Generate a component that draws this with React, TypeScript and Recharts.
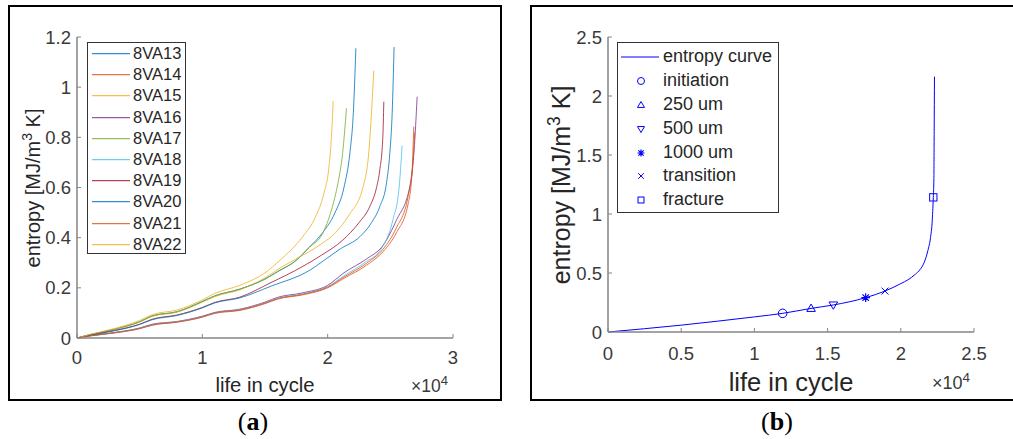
import React from "react";
import { LineChart, Line, XAxis, YAxis, ComposedChart, Scatter, Legend } from "recharts";

const FONT = '"Liberation Sans", Arial, Helvetica, sans-serif';
const AXIS = "#858585";
const TXT = "#3a3a3a";

// life in cycle is in units of 1e4, entropy in MJ/m^3 K

// panel (a)
const specimenNames = ["8VA13", "8VA14", "8VA15", "8VA16", "8VA17", "8VA18", "8VA19", "8VA20", "8VA21", "8VA22"];
const specimenColors = ["#0072BD", "#D95319", "#EDB120", "#7E2F8E", "#77AC30", "#4DBEEE", "#A2142F", "#0072BD", "#D95319", "#EDB120"];

const va13 = [[0, 0], [0.1, 0.013], [0.3, 0.035], [0.5, 0.065], [0.6, 0.088], [0.8, 0.105], [1.0, 0.146], [1.1, 0.168], [1.3, 0.195], [1.5, 0.235], [1.6, 0.264], [1.75, 0.31], [1.85, 0.36], [1.96, 0.42], [2.057, 0.498], [2.13, 0.6], [2.177, 0.737], [2.205, 0.9], [2.225, 1.155]];
const va14 = [[0, 0], [0.1, 0.008], [0.3, 0.02], [0.5, 0.037], [0.6, 0.051], [0.8, 0.063], [1.0, 0.083], [1.1, 0.098], [1.3, 0.11], [1.5, 0.137], [1.6, 0.155], [1.8, 0.172], [2.0, 0.2], [2.13, 0.238], [2.31, 0.29], [2.443, 0.345], [2.549, 0.42], [2.64, 0.53], [2.672, 0.65], [2.687, 0.843]];
const va15 = [[0, 0], [0.1, 0.013], [0.3, 0.034], [0.5, 0.063], [0.6, 0.086], [0.8, 0.103], [1.0, 0.143], [1.1, 0.165], [1.3, 0.192], [1.5, 0.24], [1.64, 0.285], [1.83, 0.338], [1.95, 0.375], [2.057, 0.417], [2.17, 0.49], [2.283, 0.603], [2.33, 0.75], [2.368, 1.066]];
const va16 = [[0, 0], [0.1, 0.009], [0.3, 0.022], [0.5, 0.04], [0.6, 0.055], [0.8, 0.066], [1.0, 0.087], [1.1, 0.102], [1.3, 0.115], [1.5, 0.143], [1.6, 0.162], [1.8, 0.18], [2.0, 0.21], [2.13, 0.26], [2.31, 0.315], [2.443, 0.37], [2.549, 0.47], [2.655, 0.603], [2.69, 0.75], [2.714, 0.962]];
const va17 = [[0, 0], [0.1, 0.013], [0.3, 0.035], [0.5, 0.065], [0.6, 0.088], [0.8, 0.105], [1.0, 0.145], [1.1, 0.168], [1.3, 0.195], [1.5, 0.235], [1.6, 0.265], [1.75, 0.31], [1.85, 0.36], [1.96, 0.417], [2.03, 0.51], [2.076, 0.603], [2.12, 0.74], [2.15, 0.916]];
const va18 = [[0, 0], [0.1, 0.009], [0.3, 0.021], [0.5, 0.039], [0.6, 0.053], [0.8, 0.065], [1.0, 0.085], [1.1, 0.1], [1.3, 0.113], [1.5, 0.14], [1.6, 0.158], [1.8, 0.176], [2.0, 0.205], [2.13, 0.248], [2.31, 0.305], [2.42, 0.35], [2.52, 0.47], [2.57, 0.6], [2.594, 0.767]];
const va19 = [[0, 0], [0.1, 0.011], [0.3, 0.03], [0.5, 0.055], [0.6, 0.075], [0.8, 0.092], [1.0, 0.122], [1.1, 0.142], [1.3, 0.163], [1.54, 0.219], [1.8, 0.285], [1.95, 0.33], [2.12, 0.39], [2.25, 0.46], [2.336, 0.524], [2.39, 0.6], [2.416, 0.67], [2.44, 0.8], [2.448, 0.942]];
const va20 = [[0, 0], [0.1, 0.011], [0.3, 0.029], [0.5, 0.054], [0.6, 0.073], [0.8, 0.09], [1.0, 0.12], [1.1, 0.14], [1.3, 0.16], [1.54, 0.205], [1.86, 0.271], [2.0, 0.32], [2.1, 0.355], [2.257, 0.404], [2.35, 0.46], [2.416, 0.524], [2.47, 0.62], [2.496, 0.737], [2.515, 0.9], [2.53, 1.16]];
const va21 = [[0, 0], [0.1, 0.008], [0.3, 0.021], [0.5, 0.038], [0.6, 0.052], [0.8, 0.064], [1.0, 0.084], [1.1, 0.1], [1.3, 0.112], [1.5, 0.139], [1.6, 0.157], [1.8, 0.174], [2.0, 0.203], [2.13, 0.243], [2.31, 0.298], [2.443, 0.355], [2.549, 0.44], [2.64, 0.56], [2.68, 0.7], [2.695, 0.82]];
const va22 = [[0, 0], [0.1, 0.014], [0.3, 0.038], [0.5, 0.07], [0.6, 0.093], [0.8, 0.112], [1.0, 0.152], [1.1, 0.178], [1.3, 0.21], [1.5, 0.26], [1.62, 0.31], [1.8, 0.404], [1.9, 0.48], [1.97, 0.577], [2.01, 0.68], [2.03, 0.8], [2.044, 0.945]];
const specimenCurves = [va13, va14, va15, va16, va17, va18, va19, va20, va21, va22];

const xTicksA = [0, 1, 2, 3];
const yTicksA = [0, 0.2, 0.4, 0.6, 0.8, 1, 1.2];

// panel (b)
const entropyCurve = [[0, 0], [0.25, 0.028], [0.5, 0.058], [0.75, 0.092], [1.0, 0.128], [1.193, 0.158], [1.387, 0.2], [1.539, 0.229], [1.76, 0.291], [1.892, 0.347], [2.0, 0.41], [2.05, 0.443], [2.1, 0.49], [2.13, 0.527], [2.16, 0.59], [2.185, 0.69], [2.203, 0.8], [2.214, 0.93], [2.222, 1.141], [2.226, 1.3], [2.228, 1.7], [2.23, 2.164]];
const eventNames = ["initiation", "250 um", "500 um", "1000 um", "transition", "fracture"];
const eventMarkers = ["circle", "up", "down", "star", "x", "square"];
const eventPoints = [[1.193, 0.158], [1.387, 0.2], [1.539, 0.229], [1.76, 0.291], [1.892, 0.347], [2.222, 1.141]];

const xTicksB = [0, 0.5, 1, 1.5, 2, 2.5];
const yTicksB = [0, 0.5, 1, 1.5, 2, 2.5];

const toXY = (pts: number[][]) => pts.map(([x, y]) => ({ x, y }));

const BLUE = "#0000FF";

function Marker({ kind, cx, cy, r = 4 }: { kind: string; cx: number; cy: number; r?: number }) {
  const p = { fill: "none", stroke: BLUE, strokeWidth: 1 };
  if (kind === "circle") return <circle cx={cx} cy={cy} r={r} {...p} />;
  if (kind === "up") return <polygon points={`${cx},${cy - r} ${cx + r},${cy + r * 0.7} ${cx - r},${cy + r * 0.7}`} {...p} />;
  if (kind === "down") return <polygon points={`${cx},${cy + r} ${cx + r},${cy - r * 0.7} ${cx - r},${cy - r * 0.7}`} {...p} />;
  if (kind === "square") return <rect x={cx - r * 0.85} y={cy - r * 0.85} width={r * 1.7} height={r * 1.7} {...p} />;
  if (kind === "x") {
    const d = r * 0.8;
    return <path d={`M${cx - d},${cy - d}L${cx + d},${cy + d}M${cx - d},${cy + d}L${cx + d},${cy - d}`} {...p} />;
  }
  const d = r * 0.75;
  return (
    <path
      d={`M${cx},${cy - r}L${cx},${cy + r}M${cx - r},${cy}L${cx + r},${cy}M${cx - d},${cy - d}L${cx + d},${cy + d}M${cx - d},${cy + d}L${cx + d},${cy - d}`}
      {...p}
      strokeWidth={1.2}
    />
  );
}

const fmt = (v: number) => String(v);

function xTick(fontSize: number, dy: number) {
  return (props: any) => {
    const { x, y, payload } = props;
    return (
      <g>
        <line x1={x} x2={x} y1={y} y2={y - 4} stroke={AXIS} />
        <text x={x} y={y + dy} textAnchor="middle" fontSize={fontSize} fill={TXT} fontFamily={FONT}>
          {fmt(payload.value)}
        </text>
      </g>
    );
  };
}

function yTick(fontSize: number, dx: number) {
  return (props: any) => {
    const { x, y, payload } = props;
    return (
      <g>
        <line x1={x} x2={x + 4} y1={y} y2={y} stroke={AXIS} />
        <text x={x - dx} y={y + fontSize * 0.36} textAnchor="end" fontSize={fontSize} fill={TXT} fontFamily={FONT}>
          {fmt(payload.value)}
        </text>
      </g>
    );
  };
}

function LegendA() {
  return (
    <div style={{ width: 99, height: 212, boxSizing: "border-box", border: "1px solid #333", background: "#fff", fontFamily: FONT, fontSize: 16.5, color: "#262626" }}>
      {specimenNames.map((n, i) => (
        <div key={n} style={{ position: "relative", height: 21.2, lineHeight: "21.2px" }}>
          <svg width={40} height={21} style={{ position: "absolute", left: 4, top: 0 }}>
            <line x1={0} x2={38} y1={10.6} y2={10.6} stroke={specimenColors[i]} strokeWidth={1.2} strokeOpacity={0.8} />
          </svg>
          <span style={{ position: "absolute", left: 45, top: 0 }}>{n}</span>
        </div>
      ))}
    </div>
  );
}

function LegendB() {
  return (
    <div style={{ width: 162, height: 171, boxSizing: "border-box", border: "1px solid #333", background: "#fff", fontFamily: FONT, fontSize: 18, color: "#262626", paddingTop: 2 }}>
      <div style={{ position: "relative", height: 23.9, lineHeight: "23.9px" }}>
        <svg width={40} height={24} style={{ position: "absolute", left: 3, top: 0 }}>
          <line x1={0} x2={38} y1={12} y2={12} stroke={BLUE} strokeWidth={1} />
        </svg>
        <span style={{ position: "absolute", left: 45, top: 0 }}>entropy curve</span>
      </div>
      {eventNames.map((n, i) => (
        <div key={n} style={{ position: "relative", height: 23.9, lineHeight: "23.9px" }}>
          <svg width={40} height={24} style={{ position: "absolute", left: 3, top: 0 }}>
            <Marker kind={eventMarkers[i]} cx={20} cy={12} r={3.5} />
          </svg>
          <span style={{ position: "absolute", left: 45, top: 0 }}>{n}</span>
        </div>
      ))}
    </div>
  );
}

function YTitle({ cx, cy, size }: { cx: number; cy: number; size: number }) {
  return (
    <div
      style={{
        position: "absolute", left: cx, top: cy, transform: "translate(-50%, -50%) rotate(-90deg)",
        whiteSpace: "nowrap", fontFamily: FONT, fontSize: size, color: "#262626", lineHeight: 1,
      }}
    >
      entropy [MJ/m<sup style={{ fontSize: "0.7em", verticalAlign: "0.55em", lineHeight: 0 }}>3</sup> K]
    </div>
  );
}

function Text({ x, y, size, children, style }: any) {
  return (
    <div style={{ position: "absolute", left: x, top: y, transform: "translate(-50%, -50%)", whiteSpace: "nowrap", fontFamily: FONT, fontSize: size, color: "#262626", lineHeight: 1, ...style }}>
      {children}
    </div>
  );
}

function Times({ x, y, size }: { x: number; y: number; size: number }) {
  return (
    <div style={{ position: "absolute", left: x, top: y, whiteSpace: "nowrap", fontFamily: FONT, fontSize: size, color: "#3a3a3a", lineHeight: 1 }}>
      ×10<sup style={{ fontSize: "0.75em", verticalAlign: "0.5em", lineHeight: 0 }}>4</sup>
    </div>
  );
}

const serif = { fontFamily: '"Liberation Serif", "DejaVu Serif", serif', color: "#000" };

export default function App() {
  return (
    <div style={{ position: "absolute", left: 0, top: 0, width: 1013, height: 439, background: "#fff", overflow: "hidden" }}>
      <div style={{ position: "absolute", left: 8, top: 5, width: 494, height: 396, border: "2px solid #000", boxSizing: "border-box" }} />
      <div style={{ position: "absolute", left: 530, top: 5, width: 500, height: 396, border: "2px solid #000", boxSizing: "border-box" }} />

      <div style={{ position: "absolute", left: 0, top: 0 }}>
        <LineChart width={500} height={400} margin={{ top: 37, right: 47, bottom: 0, left: 0 }}>
          <XAxis
            type="number" dataKey="x" domain={[0, 3]} ticks={xTicksA} interval={0} height={62}
            tickSize={0} tickMargin={0} tickLine={false} axisLine={{ stroke: AXIS, strokeWidth: 1.5 }}
            tick={xTick(18.5, 26)} allowDuplicatedCategory={false}
          />
          <YAxis
            type="number" domain={[0, 1.2]} ticks={yTicksA} interval={0} width={77}
            tickSize={0} tickMargin={0} tickLine={false} axisLine={{ stroke: AXIS, strokeWidth: 1.5 }}
            tick={yTick(18.5, 6)}
          />
          {specimenCurves.map((c, i) => (
            <Line
              key={specimenNames[i]} data={toXY(c)} dataKey="y" name={specimenNames[i]} type="monotone"
              stroke={specimenColors[i]} strokeOpacity={0.8} strokeWidth={1} dot={false} activeDot={false} isAnimationActive={false}
            />
          ))}
          <Legend layout="vertical" align="center" verticalAlign="middle" wrapperStyle={{ left: 87, top: 42, width: 99 }} content={() => <LegendA />} />
        </LineChart>
      </div>

      <div style={{ position: "absolute", left: 531, top: 0 }}>
        <ComposedChart width={482} height={400} margin={{ top: 37, right: 39, bottom: 0, left: 0 }}>
          <XAxis
            type="number" dataKey="x" domain={[0, 2.5]} ticks={xTicksB} interval={0} height={68}
            tickSize={0} tickMargin={0} tickLine={false} axisLine={{ stroke: AXIS, strokeWidth: 1.5 }}
            tick={xTick(18.5, 28)} allowDuplicatedCategory={false}
          />
          <YAxis
            type="number" domain={[0, 2.5]} ticks={yTicksB} interval={0} width={77}
            tickSize={0} tickMargin={0} tickLine={false} axisLine={{ stroke: AXIS, strokeWidth: 1.5 }}
            tick={yTick(18.5, 6)}
          />
          <Line
            data={toXY(entropyCurve)} dataKey="y" name="entropy curve" type="monotone"
            stroke={BLUE} strokeWidth={1} dot={false} activeDot={false} isAnimationActive={false}
          />
          {eventPoints.map((p, i) => (
            <Scatter
              key={eventNames[i]} name={eventNames[i]} data={toXY([p])} dataKey="y" isAnimationActive={false}
              shape={(props: any) => <Marker kind={eventMarkers[i]} cx={props.cx} cy={props.cy} r={4.3} />}
            />
          ))}
          <Legend layout="vertical" align="center" verticalAlign="middle" wrapperStyle={{ left: 86, top: 42, width: 162 }} content={() => <LegendB />} />
        </ComposedChart>
      </div>

      <YTitle cx={33} cy={188} size={20} />
      <Text x={265} y={385} size={20.3}>life in cycle</Text>
      <Times x={411} y={378} size={17.5} />
      <Text x={253} y={422} size={26} style={serif}>
        (<b>a</b>)
      </Text>

      <YTitle cx={561} cy={185} size={25} />
      <Text x={791} y={383} size={25.5}>life in cycle</Text>
      <Times x={932} y={374} size={18} />
      <Text x={777} y={422} size={26} style={serif}>
        (<b>b</b>)
      </Text>
    </div>
  );
}
